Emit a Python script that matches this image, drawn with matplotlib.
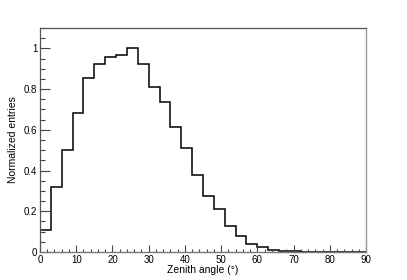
import matplotlib
matplotlib.use('Agg')
import matplotlib.pyplot as plt  # NOQA
import numpy as np               # NOQA
from matplotlib.ticker import MultipleLocator, FuncFormatter  # NOQA

# zenith angle bins (degrees), 3 degree wide
bin_edges = np.arange(0, 93, 3)
entries = [0.11, 0.32, 0.50, 0.685, 0.855, 0.925, 0.96, 0.965, 1.0, 0.925,
           0.81, 0.735, 0.615, 0.51, 0.378, 0.275, 0.213, 0.13, 0.08, 0.041,
           0.024, 0.01, 0.004, 0.003, 0.002, 0.0, 0.0, 0.0, 0.0, 0.0]

plt.rcParams['font.family'] = ['Liberation Sans', 'DejaVu Sans']

fig = plt.figure(figsize=(4.07, 2.8), dpi=100)
ax = fig.add_axes([40 / 407., 28 / 280., 326 / 407., 224 / 280.])

ax.stairs(entries, bin_edges, color='black', linewidth=1.1)

ax.set_xlim(0, 90)
ax.set_ylim(0, 1.1)

ax.xaxis.set_major_locator(MultipleLocator(10))
ax.xaxis.set_minor_locator(MultipleLocator(2))
ax.yaxis.set_major_locator(MultipleLocator(0.2))
ax.yaxis.set_minor_locator(MultipleLocator(0.05))
ax.yaxis.set_major_formatter(FuncFormatter(lambda v, p: '%g' % round(v, 2)))

ax.tick_params(axis='both', which='both', direction='in', labelsize=7,
               color='#444444', width=0.8, top=False, right=False)
ax.tick_params(axis='x', which='major', length=4.8, pad=2)
ax.tick_params(axis='x', which='minor', length=2.4)
ax.tick_params(axis='y', which='major', length=7, pad=2)
ax.tick_params(axis='y', which='minor', length=3.5)

for side in ['top', 'left']:
    ax.spines[side].set_color('#555555')
    ax.spines[side].set_linewidth(0.9)
ax.spines['right'].set_color('#999999')
ax.spines['right'].set_linewidth(1.0)
ax.spines['bottom'].set_color('#777788')
ax.spines['bottom'].set_linewidth(1.0)

ax.set_xlabel('Zenith angle (°)', fontsize=7.5, labelpad=0.5)
ax.set_ylabel('Normalized entries', fontsize=7.5, labelpad=4)

plt.savefig('out.png', dpi=100)
plt.close()
